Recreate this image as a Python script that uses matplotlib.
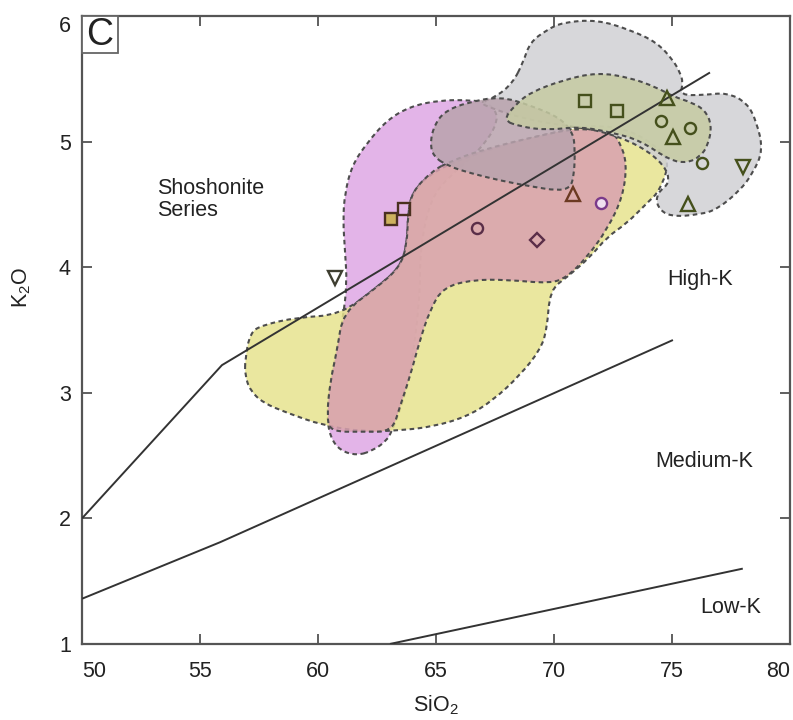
#!/usr/bin/env python3
"""K2O vs SiO2 classification diagram (panel C) with sample fields."""
import matplotlib

matplotlib.use("Agg")
import matplotlib.pyplot as plt
from matplotlib.colors import to_rgba
from matplotlib.patches import PathPatch, Rectangle
from matplotlib.path import Path

plt.rcParams["font.family"] = ["Liberation Sans", "DejaVu Sans"]
plt.rcParams["mathtext.default"] = "regular"

# --- series boundaries (SiO2, K2O) ---
SHO_HK_X = [50.0, 55.93, 76.61]
SHO_HK_Y = [2.00, 3.22, 5.55]
HK_MK_X = [50.0, 55.85, 75.04]
HK_MK_Y = [1.36, 1.81, 3.42]
MK_LK_X = [63.05, 78.0]
MK_LK_Y = [1.00, 1.60]

# --- field outlines (SiO2, K2O) ---
VIOLET_X = [61.65, 60.93, 60.51, 60.38, 60.51, 60.81, 61.06, 61.23, 61.14, 61.06,
            61.14, 61.44, 62.08, 62.92, 63.90, 65.17, 66.44, 67.29, 67.71, 66.86,
            65.59, 64.75, 64.32, 64.32, 63.90, 63.47, 63.14, 62.92, 62.33]
VIOLET_Y = [2.50, 2.54, 2.65, 2.82, 3.08, 3.34, 3.60, 3.87, 4.14, 4.38,
            4.59, 4.81, 4.99, 5.17, 5.28, 5.33, 5.33, 5.31, 5.17, 4.93,
            4.73, 4.54, 4.14, 3.74, 3.13, 2.86, 2.70, 2.62, 2.54]

YELLOW_X = [56.91, 57.12, 57.67, 59.11, 60.93, 62.50, 63.47, 63.77, 63.81, 63.98,
            64.87, 66.44, 68.56, 70.89, 71.95, 73.22, 74.28, 74.92, 74.49, 73.94,
            73.09, 72.25, 71.53, 70.55, 69.83, 69.70, 69.41, 68.56, 67.42, 66.31,
            64.87, 63.47, 61.91, 60.21, 58.69, 57.67, 57.12, 56.91]
YELLOW_Y = [3.26, 3.48, 3.54, 3.60, 3.62, 3.84, 4.00, 4.18, 4.42, 4.60,
            4.76, 4.89, 5.01, 5.11, 5.13, 5.09, 4.97, 4.85, 4.61, 4.51,
            4.35, 4.24, 4.08, 3.92, 3.82, 3.50, 3.34, 3.14, 2.94, 2.81,
            2.73, 2.70, 2.69, 2.74, 2.84, 2.92, 3.02, 3.14]

ROSE_X = [64.87, 63.98, 63.81, 63.77, 63.47, 62.50, 61.06, 60.81, 60.51, 60.38,
          60.51, 61.91, 63.14, 63.47, 63.90, 64.32, 64.75, 65.30, 66.57, 68.01,
          69.83, 70.55, 71.40, 72.25, 72.92, 73.09, 72.80, 72.50, 71.10, 69.41,
          66.86, 65.59]
ROSE_Y = [4.77, 4.60, 4.42, 4.18, 4.00, 3.84, 3.64, 3.34, 3.08, 2.82,
          2.69, 2.69, 2.69, 2.89, 3.13, 3.42, 3.66, 3.84, 3.90, 3.90,
          3.87, 3.92, 4.08, 4.30, 4.56, 4.83, 4.99, 5.07, 5.11, 5.05,
          4.93, 4.84]

GRAY_X = [68.69, 68.98, 69.70, 70.38, 71.82, 73.22, 74.36, 75.04, 75.34, 75.47,
          75.34, 76.31, 77.33, 78.18, 78.60, 78.86, 78.43, 77.88, 76.91, 76.19,
          74.92, 74.36, 74.36, 74.92, 74.70, 73.64, 71.95, 70.25, 68.56, 67.29,
          66.86, 67.58, 68.26]
GRAY_Y = [5.63, 5.79, 5.89, 5.95, 5.97, 5.89, 5.79, 5.65, 5.55, 5.47,
          5.37, 5.37, 5.39, 5.31, 5.15, 4.93, 4.75, 4.61, 4.46, 4.42,
          4.40, 4.48, 4.59, 4.67, 4.81, 4.97, 5.09, 5.13, 5.19, 5.27,
          5.31, 5.36, 5.47]

MAUVE_X = [64.87, 64.75, 65.00, 65.47, 66.31, 67.71, 68.98, 70.25, 70.81, 70.89,
           70.85, 70.68, 70.13, 69.11, 67.71, 66.44, 65.59]
MAUVE_Y = [4.88, 5.01, 5.16, 5.25, 5.31, 5.36, 5.29, 5.19, 5.07, 4.93,
           4.73, 4.63, 4.61, 4.64, 4.69, 4.75, 4.80]

OLIVE_X = [67.84, 68.35, 68.98, 70.38, 71.82, 73.22, 74.36, 75.04, 75.85, 76.40,
           76.69, 76.53, 76.19, 75.64, 74.92, 73.64, 72.50, 71.10, 69.70, 68.56]
OLIVE_Y = [5.17, 5.29, 5.39, 5.49, 5.55, 5.51, 5.43, 5.36, 5.31, 5.25,
           5.13, 4.97, 4.88, 4.83, 4.85, 5.01, 5.07, 5.12, 5.09, 5.12]

# --- samples ---
SQ_FILL_X, SQ_FILL_Y = [63.09], [4.38]
SQ_BROWN_X, SQ_BROWN_Y = [63.64], [4.46]
SQ_OLIVE_X, SQ_OLIVE_Y = [71.31, 72.67], [5.32, 5.24]
TRI_OLIVE_X, TRI_OLIVE_Y = [74.79, 75.04, 75.68], [5.35, 5.04, 4.50]
TRI_BROWN_X, TRI_BROWN_Y = [70.80], [4.58]
CIR_OLIVE_X, CIR_OLIVE_Y = [74.53, 75.76, 76.27], [5.16, 5.11, 4.83]
DTRI_OLIVE_X, DTRI_OLIVE_Y = [78.0], [4.80]
DTRI_DARK_X, DTRI_DARK_Y = [60.72], [3.91]
CIR_PLUM_X, CIR_PLUM_Y = [66.74], [4.31]
DIA_PLUM_X, DIA_PLUM_Y = [69.28], [4.22]
CIR_VIOLET_X, CIR_VIOLET_Y = [71.99], [4.51]

EDGE = "#4d4d4d"
DASH = (0, (2.2, 1.7))


def rounded_outline(xs, ys):
    """Closed quadratic-Bezier path using the outline points as control points."""
    pts = list(zip(xs, ys))
    n = len(pts)
    mid = lambda a, b: ((a[0] + b[0]) / 2, (a[1] + b[1]) / 2)
    verts = [mid(pts[-1], pts[0])]
    codes = [Path.MOVETO]
    for i in range(n):
        verts += [pts[i], mid(pts[i], pts[(i + 1) % n])]
        codes += [Path.CURVE3, Path.CURVE3]
    return Path(verts, codes)


def add_field(ax, xs, ys, face, z, alpha=0.85):
    ax.add_patch(PathPatch(rounded_outline(xs, ys), facecolor=to_rgba(face, alpha),
                           edgecolor=EDGE, lw=1.5, linestyle=DASH, zorder=z))


def main():
    fig = plt.figure(figsize=(7.93, 7.2), dpi=100)
    ax = fig.add_axes([0.1034, 0.1056, 0.8928, 0.8722])

    add_field(ax, VIOLET_X, VIOLET_Y, "#dea7e4", 1)
    add_field(ax, YELLOW_X, YELLOW_Y, "#e7e38e", 2)
    add_field(ax, ROSE_X, ROSE_Y, "#d9a1b0", 3)
    add_field(ax, GRAY_X, GRAY_Y, "#d0d0d4", 4)
    add_field(ax, MAUVE_X, MAUVE_Y, "#b9a3ad", 5)
    add_field(ax, OLIVE_X, OLIVE_Y, "#c6cba2", 6)

    for xs, ys in ((SHO_HK_X, SHO_HK_Y), (HK_MK_X, HK_MK_Y), (MK_LK_X, MK_LK_Y)):
        ax.plot(xs, ys, color="#333333", lw=1.4, zorder=8, solid_capstyle="butt")

    mk = dict(ls="none", mew=1.7, zorder=10)
    ax.plot(SQ_FILL_X, SQ_FILL_Y, marker="s", ms=8, mfc="#cdb25e", mec="#4a3020", **mk)
    ax.plot(SQ_BROWN_X, SQ_BROWN_Y, marker="s", ms=8, mfc="none", mec="#4a3020", **mk)
    ax.plot(SQ_OLIVE_X, SQ_OLIVE_Y, marker="s", ms=8, mfc="none", mec="#45501c", **mk)
    ax.plot(TRI_OLIVE_X, TRI_OLIVE_Y, marker="^", ms=10, mfc="none", mec="#45501c", **mk)
    ax.plot(TRI_BROWN_X, TRI_BROWN_Y, marker="^", ms=10, mfc="none", mec="#6b3a22", **mk)
    ax.plot(CIR_OLIVE_X, CIR_OLIVE_Y, marker="o", ms=8, mfc="none", mec="#45501c", **mk)
    ax.plot(DTRI_OLIVE_X, DTRI_OLIVE_Y, marker="v", ms=10, mfc="none", mec="#45501c", **mk)
    ax.plot(DTRI_DARK_X, DTRI_DARK_Y, marker="v", ms=10, mfc="none", mec="#3e3e30", **mk)
    ax.plot(CIR_PLUM_X, CIR_PLUM_Y, marker="o", ms=8, mfc="none", mec="#5a2e48", **mk)
    ax.plot(DIA_PLUM_X, DIA_PLUM_Y, marker="D", ms=7.5, mfc="none", mec="#5a2e48", **mk)
    ax.plot(CIR_VIOLET_X, CIR_VIOLET_Y, marker="o", ms=8, mfc="#f0e0f0", mec="#7a3a8a", **mk)

    txt = dict(fontsize=15.5, color="#222222", zorder=12)
    ax.text(53.2, 4.54, "Shoshonite\nSeries", ha="left", va="center",
            linespacing=1.1, **txt)
    ax.text(74.79, 3.90, "High-K", ha="left", va="center", **txt)
    ax.text(74.28, 2.45, "Medium-K", ha="left", va="center", **txt)
    ax.text(76.19, 1.29, "Low-K", ha="left", va="center", **txt)

    # panel tag
    ax.add_patch(Rectangle((0, 1 - 0.059), 0.051, 0.059, transform=ax.transAxes,
                           facecolor="white", edgecolor="#666666", lw=1.3,
                           zorder=14, clip_on=False))
    ax.text(0.0255, 0.9705, "C", transform=ax.transAxes, ha="center", va="center",
            fontsize=27, color="#222222", zorder=15)

    ax.set_xlim(50, 80)
    ax.set_ylim(1, 6)
    ax.set_xticks(range(50, 81, 5))
    ax.set_yticks(range(1, 7))
    ax.tick_params(direction="in", top=True, right=True, length=7.5, width=1.2,
                   color="#444444", labelsize=15.5, labelcolor="#222222")
    ax.tick_params(axis="x", pad=12)
    ax.tick_params(axis="y", pad=8)
    xl = ax.get_xticklabels()
    xl[0].set_horizontalalignment("left")
    xl[-1].set_horizontalalignment("right")
    yl = ax.get_yticklabels()
    yl[-1].set_verticalalignment("top")
    for sp in ax.spines.values():
        sp.set_color("#555555")
        sp.set_linewidth(1.6)

    ax.set_xlabel("SiO$_2$", fontsize=15.5, color="#222222")
    ax.set_ylabel("K$_2$O", fontsize=15.5, color="#222222")
    ax.xaxis.set_label_coords(0.5, -0.078)
    ax.yaxis.set_label_coords(-0.069, 0.567)

    fig.savefig("out.png", dpi=100)


if __name__ == "__main__":
    main()
